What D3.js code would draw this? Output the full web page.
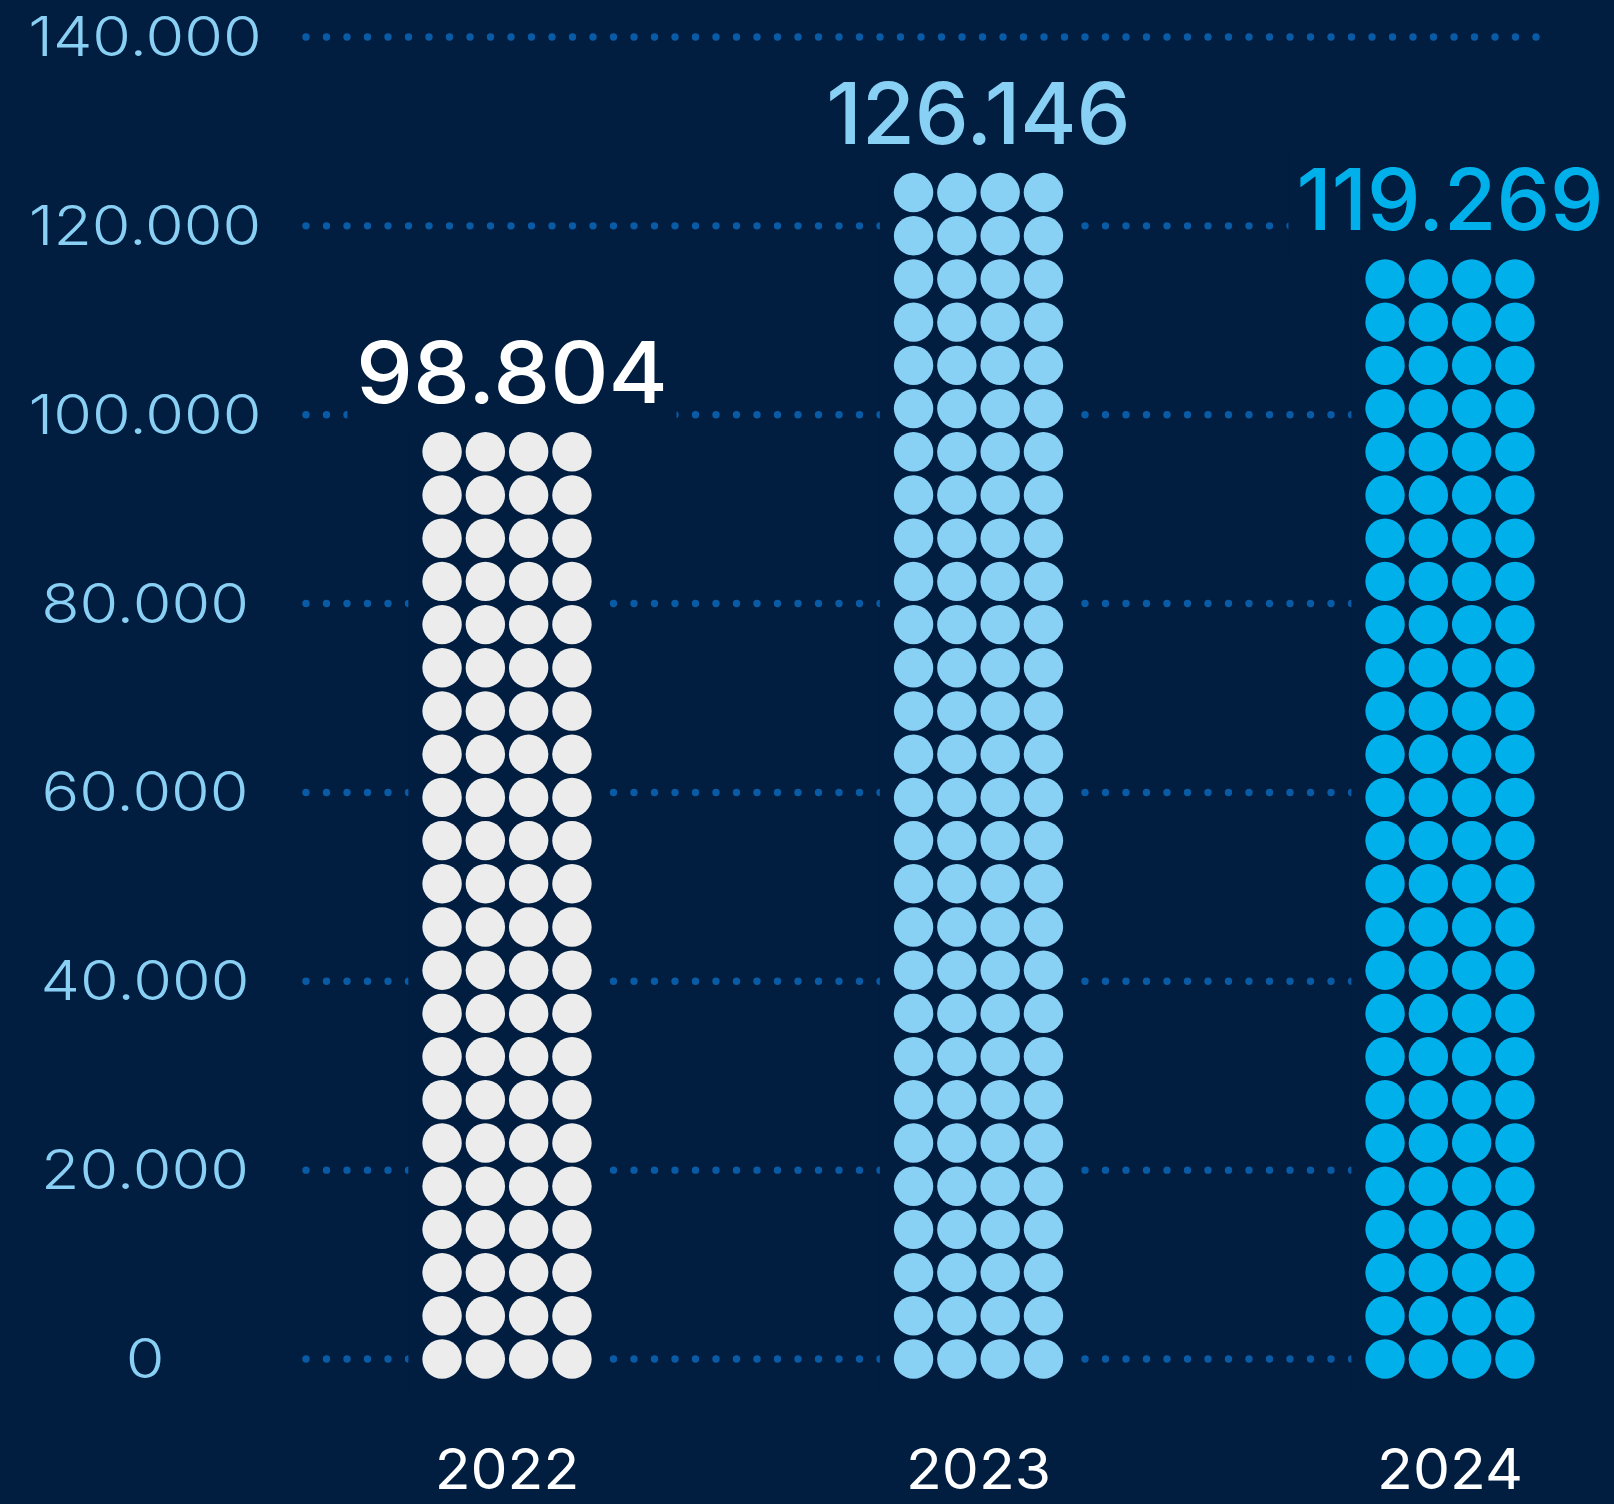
<!DOCTYPE html>
<html>
<head>
<meta charset="utf-8">
<script src="https://cdn.jsdelivr.net/npm/d3@7"></script>
<style>
  html, body { margin: 0; padding: 0; background: #011e40; }
  svg { display: block; }
</style>
</head>
<body>
<svg id="chart" width="1614" height="1504"></svg>
<script>
// Annual totals, one dotted column per year
const years = ["2022", "2023", "2024"];
const totals = [98804, 126146, 119269];
const totalLabels = ["98.804", "126.146", "119.269"];
const dotColors = ["#ececec", "#88d0f4", "#00b0ea"];
const labelColors = ["#ffffff", "#88d0f4", "#00b0ea"];

// Value axis
const tickValues = [0, 20000, 40000, 60000, 80000, 100000, 120000, 140000];
const tickLabels = ["0", "20.000", "40.000", "60.000", "80.000", "100.000", "120.000", "140.000"];

// Each row of four dots stands for this many units
const unitsPerRow = 4575;
const dotsPerRow = 4;

const W = 1614, H = 1504;
const bg = "#011e40";
const svg = d3.select("#chart");
svg.append("rect").attr("width", W).attr("height", H).attr("fill", bg);

const y = d3.scaleLinear().domain([0, 140000]).range([1359, 37]);
const x = d3.scalePoint().domain(years).range([507, 1450]);

const colStep = 43.3;
const r = 19.7;

// Dotted gridlines
const grid = svg.append("g");
grid.selectAll("line").data(tickValues).join("line")
  .attr("x1", 306).attr("x2", 1541)
  .attr("y1", d => y(d)).attr("y2", d => y(d))
  .attr("stroke", "#0a5ba6")
  .attr("stroke-width", 7.4)
  .attr("stroke-linecap", "round")
  .attr("stroke-dasharray", "0 20.5");

// Axis labels, widened a little for a broad geometric look
svg.append("g").selectAll("text").data(tickValues).join("text")
  .attr("transform", d => `translate(145,${y(d) + 19}) scale(1.14,1)`)
  .attr("text-anchor", "middle")
  .attr("font-family", "Inter, 'Open Sans', sans-serif")
  .attr("font-weight", 300)
  .attr("font-size", 55)
  .attr("fill", "#8ad0f4")
  .text((d, i) => tickLabels[i]);

const rowsOf = v => Math.round(v / unitsPerRow);

// Column backdrops knock the gridline out around each column
const pad = 14;
svg.append("g").selectAll("rect").data(years).join("rect")
  .attr("x", d => x(d) - 1.5 * colStep - r - pad)
  .attr("width", 3 * colStep + 2 * r + 2 * pad)
  .attr("y", (d, i) => y((rowsOf(totals[i]) - 1) * unitsPerRow) - r - pad)
  .attr("height", (d, i) => y(0) - y((rowsOf(totals[i]) - 1) * unitsPerRow) + 2 * r + 2 * pad)
  .attr("fill", bg);

// Dots
years.forEach((yr, i) => {
  const rows = rowsOf(totals[i]);
  const cells = [];
  for (let row = 0; row < rows; row++) {
    for (let c = 0; c < dotsPerRow; c++) cells.push({ row, c });
  }
  svg.append("g").selectAll("circle").data(cells).join("circle")
    .attr("cx", d => x(yr) + (d.c - (dotsPerRow - 1) / 2) * colStep)
    .attr("cy", d => y(d.row * unitsPerRow))
    .attr("r", r)
    .attr("fill", dotColors[i]);
});

// Total labels above each column, on a backdrop that breaks the gridline
const labelG = svg.append("g");
const labelSX = [1.065, 1.01, 1.0];
years.forEach((yr, i) => {
  const topEdge = y((rowsOf(totals[i]) - 1) * unitsPerRow) - r;
  const g = labelG.append("g")
    .attr("transform", `translate(${x(yr) + (i === 0 ? 5 : 0)},${topEdge - 29}) scale(${labelSX[i]},1)`);
  const bgRect = g.append("rect").attr("fill", bg);
  const t = g.append("text")
    .attr("text-anchor", "middle")
    .attr("font-family", "Inter, 'Open Sans', sans-serif")
    .attr("font-weight", 500)
    .attr("font-size", 85)
    .attr("fill", labelColors[i])
    .text(totalLabels[i]);
  const b = t.node().getBBox();
  bgRect.attr("x", b.x - 8).attr("y", b.y).attr("width", b.width + 16).attr("height", b.height + 6);
});

// Year labels
svg.append("g").selectAll("text").data(years).join("text")
  .attr("transform", d => `translate(${x(d)},1489) scale(1.05,1)`)
  .attr("text-anchor", "middle")
  .attr("font-family", "Inter, 'Open Sans', sans-serif")
  .attr("font-weight", 400)
  .attr("font-size", 56)
  .attr("fill", "#ffffff")
  .text(d => d);
</script>
</body>
</html>
